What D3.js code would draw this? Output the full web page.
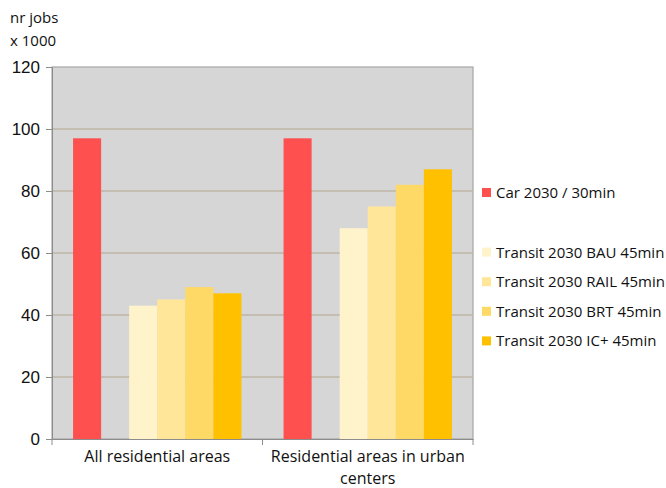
<!DOCTYPE html>
<html>
<head>
<meta charset="utf-8">
<script src="https://cdn.jsdelivr.net/npm/d3@7"></script>
<style>
	body { margin: 0; background: #fff; }
	svg { font-family: "Open Sans", sans-serif; }
	.axis text { font-size: 17px; fill: #111; }
	.axis path, .axis line { stroke: #8c8c8c; }
</style>
</head>
<body>
<svg width="666" height="488"></svg>
<script>
const CATEGORIES = ['All residential areas', 'Residential areas in urban centers'];
const SERIES = ['Car 2030 / 30min', '', 'Transit 2030 BAU 45min', 'Transit 2030 RAIL 45min',
	'Transit 2030 BRT 45min', 'Transit 2030 IC+ 45min'];
const COLORS = ['#ff5050', 'none', '#fff3cc', '#ffe699', '#ffd966', '#ffc000'];
const CAR = [97, 97];
const BLANK = [0, 0];
const BAU = [43, 68];
const RAIL = [45, 75];
const BRT = [49, 82];
const ICPLUS = [47, 87];
const Y_TICKS = [0, 20, 40, 60, 80, 100, 120];

function whenDocumentLoaded(action) {
	if (document.readyState === "loading") {
		document.addEventListener("DOMContentLoaded", action);
	} else {
		action();
	}
}

whenDocumentLoaded(() => {
	let values = [CAR, BLANK, BAU, RAIL, BRT, ICPLUS];
	let data = [];
	CATEGORIES.forEach((c, ci) => {
		SERIES.forEach((s, si) => {
			data.push({cat: c, series: si, v: values[si][ci]});
		});
	});

	let svg = d3.select('svg');
	let left = 52, right = 473, top = 67, bottom = 439;

	let scaleX = d3.scaleBand().range([left, right]).domain(CATEGORIES);
	let inner = d3.scaleBand().domain(d3.range(SERIES.length))
		.range([0, scaleX.bandwidth()]).paddingOuter(0.75).paddingInner(0);
	let scaleY = d3.scaleLinear().domain([0, 120]).range([bottom, top]);

	// plot background
	svg.append('rect').attr('x', left).attr('y', top)
		.attr('width', right - left).attr('height', bottom - top)
		.attr('fill', '#d6d6d6').attr('stroke', '#a6a6a6').attr('stroke-width', 1.2);

	// gridlines
	svg.append('g').selectAll('line')
		.data(Y_TICKS.filter(t => t > 0 && t < 120))
		.enter().append('line')
		.attr('x1', left).attr('x2', right)
		.attr('y1', d => scaleY(d)).attr('y2', d => scaleY(d))
		.attr('stroke', '#bdb5a6').attr('stroke-width', 1.5);

	// bars
	svg.append('g').selectAll('rect')
		.data(data.filter(d => COLORS[d.series] !== 'none'))
		.enter().append('rect')
		.attr('x', d => scaleX(d.cat) + inner(d.series))
		.attr('width', inner.bandwidth())
		.attr('y', d => scaleY(d.v))
		.attr('height', d => scaleY(0) - scaleY(d.v))
		.attr('fill', d => COLORS[d.series]);

	// axes
	let yAxis = d3.axisLeft(scaleY).tickValues(Y_TICKS).tickSize(6).tickPadding(6);
	svg.append('g').attr('class', 'axis').attr('transform', `translate(${left},0)`).call(yAxis);

	let xAxis = d3.axisBottom(scaleX).tickSize(0).tickFormat('');
	let gx = svg.append('g').attr('class', 'axis').attr('transform', `translate(0,${bottom})`).call(xAxis);
	gx.selectAll('.tick').remove();
	gx.selectAll('line.sep')
		.data([left, left + scaleX.bandwidth(), right])
		.enter().append('line')
		.attr('x1', d => d).attr('x2', d => d)
		.attr('y1', 0).attr('y2', 6).attr('stroke', '#8c8c8c');

	// category labels (wrapped like the original), one text per line
	let catLines = [['All residential areas'], ['Residential areas in urban', 'centers']];
	CATEGORIES.forEach((c, i) => {
		catLines[i].forEach((l, j) => {
			svg.append('text')
				.attr('x', scaleX(c) + scaleX.bandwidth() / 2)
				.attr('y', 462 + j * 22)
				.attr('text-anchor', 'middle')
				.attr('font-size', 16).attr('fill', '#111')
				.text(l);
		});
	});

	// y unit label
	svg.append('text').attr('x', 10).attr('y', 23).attr('font-size', 15).attr('fill', '#111').text('nr jobs');
	svg.append('text').attr('x', 10).attr('y', 46).attr('font-size', 15).attr('fill', '#111').text('x 1000');

	// legend
	let legend = svg.append('g').selectAll('g')
		.data(SERIES.map((s, i) => ({name: s, color: COLORS[i], i: i})))
		.enter().append('g')
		.attr('transform', d => `translate(482,${193 + (d.i === 0 ? 0 : 30 + (d.i - 1) * 29.6)})`);
	legend.filter(d => d.color !== 'none').append('rect')
		.attr('x', 0).attr('y', -5).attr('width', 9).attr('height', 9)
		.attr('fill', d => d.color);
	legend.append('text').attr('x', 14).attr('y', 5)
		.attr('font-size', 15).attr('fill', '#111').text(d => d.name);
});
</script>
</body>
</html>
